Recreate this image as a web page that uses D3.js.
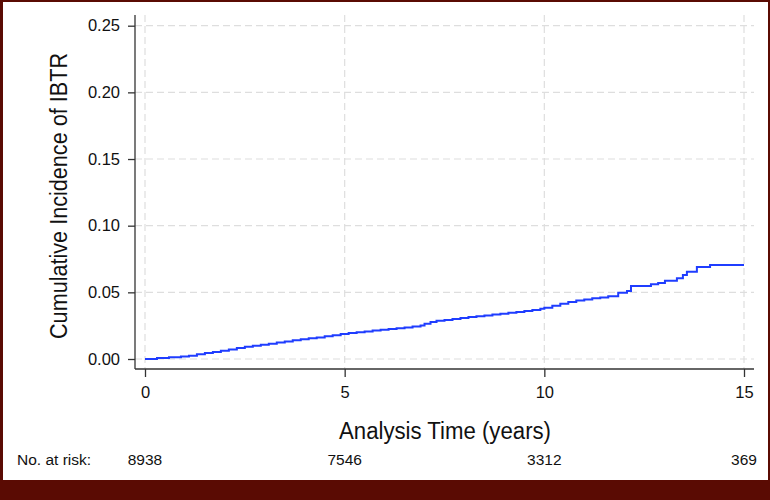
<!DOCTYPE html>
<html>
<head>
<meta charset="utf-8">
<script src="https://cdn.jsdelivr.net/npm/d3@7"></script>
<style>
  html, body { margin: 0; padding: 0; background: #fff; }
  svg { display: block; font-family: "Liberation Sans", Arial, Helvetica, sans-serif; }
</style>
</head>
<body>
<svg id="chart" width="770" height="500"></svg>
<script>
// ---- data ----
const times = [0, 0.3, 0.6, 0.9, 1.1, 1.3, 1.5, 1.7, 1.9, 2.1, 2.3, 2.5, 2.7, 2.9, 3.1, 3.3, 3.5, 3.7, 3.9,
  4.1, 4.3, 4.5, 4.7, 4.9, 5.1, 5.3, 5.5, 5.7, 5.9, 6.1, 6.3, 6.5, 6.7, 6.9, 7.0, 7.15, 7.3, 7.5, 7.7, 7.9,
  8.1, 8.3, 8.5, 8.7, 8.9, 9.1, 9.3, 9.5, 9.7, 9.9, 10.0, 10.2, 10.4, 10.6, 10.8, 11.0, 11.2, 11.4, 11.6,
  11.85, 12.07, 12.17, 12.67, 12.85, 13.02, 13.32, 13.47, 13.57, 13.82, 14.15, 15.0];
const incidence = [0, 0.0008, 0.0013, 0.0019, 0.0025, 0.0035, 0.0045, 0.0052, 0.0062, 0.0072, 0.0082, 0.0092,
  0.0100, 0.0107, 0.0115, 0.0123, 0.0132, 0.0140, 0.0148, 0.0155, 0.0162, 0.0170, 0.0178, 0.0187, 0.0195,
  0.0200, 0.0207, 0.0213, 0.0219, 0.0225, 0.0231, 0.0237, 0.0243, 0.0252, 0.0265, 0.0278, 0.0287, 0.0293,
  0.0300, 0.0308, 0.0315, 0.0321, 0.0327, 0.0333, 0.0340, 0.0347, 0.0353, 0.0360, 0.0367, 0.0376, 0.0385,
  0.0400, 0.0415, 0.0428, 0.0438, 0.0447, 0.0455, 0.0462, 0.0470, 0.0497, 0.0510, 0.0547, 0.0560, 0.0570,
  0.0587, 0.0605, 0.0630, 0.0655, 0.0690, 0.0705, 0.0705];
const xTicks = [0, 5, 10, 15];
const yTicks = [0, 0.05, 0.10, 0.15, 0.20, 0.25];
const atRiskTimes = [0, 5, 10, 15];
const atRisk = ["8938", "7546", "3312", "369"];
const xTitle = "Analysis Time (years)";
const yTitle = "Cumulative Incidence of IBTR";
const atRiskLabel = "No. at risk:";

// ---- layout ----
const svg = d3.select("#chart");
const W = 770, H = 500;
const frameColor = "#5a0b03";
const plotLeft = 135, plotRight = 754, plotTop = 15, plotBottom = 369;

const x = d3.scaleLinear().domain([0, 15]).range([145, 744]);
const y = d3.scaleLinear().domain([0, 0.25]).range([359, 25.7]);

// frame
svg.append("rect").attr("x", 0).attr("y", 0).attr("width", W).attr("height", H).attr("fill", frameColor);
svg.append("rect").attr("x", 3).attr("y", 2).attr("width", W - 5).attr("height", 478).attr("fill", "#fff");

// grid
const grid = svg.append("g").attr("stroke", "#dedede").attr("stroke-width", 1.2).attr("stroke-dasharray", "7,4");
grid.selectAll("line.h").data(yTicks).join("line")
  .attr("x1", plotLeft).attr("x2", plotRight)
  .attr("y1", d => y(d)).attr("y2", d => y(d));
grid.selectAll("line.v").data(xTicks).join("line")
  .attr("y1", plotTop).attr("y2", plotBottom)
  .attr("x1", d => x(d)).attr("x2", d => x(d));

// axes
const yAxis = d3.axisLeft(y).tickValues(yTicks).tickFormat(d3.format(".2f")).tickSize(7).tickPadding(8);
const gy = svg.append("g").attr("transform", `translate(${plotLeft},0)`).call(yAxis);
gy.select(".domain").remove();
gy.append("line").attr("x1", 0).attr("x2", 0).attr("y1", plotTop).attr("y2", plotBottom);

const xAxis = d3.axisBottom(x).tickValues(xTicks).tickFormat(d3.format("d")).tickSize(8).tickPadding(9);
const gx = svg.append("g").attr("transform", `translate(0,${plotBottom})`).call(xAxis);
gx.select(".domain").remove();
gx.append("line").attr("x1", plotLeft).attr("x2", plotRight).attr("y1", 0).attr("y2", 0);

[gx, gy].forEach(g => {
  g.selectAll("line").attr("stroke", "#333").attr("stroke-width", 1.3);
  g.selectAll("text").attr("fill", "#111").attr("font-size", 16.5)
    .attr("font-family", "'Liberation Sans', Arial, sans-serif");
});

// curve
const pts = times.map((t, i) => [t, incidence[i]]);
svg.append("path").datum(pts)
  .attr("fill", "none").attr("stroke", "#1f3dff").attr("stroke-width", 2)
  .attr("d", d3.line().x(d => x(d[0])).y(d => y(d[1])).curve(d3.curveStepAfter));

// titles
svg.append("text").attr("x", 445).attr("y", 439).attr("text-anchor", "middle")
  .attr("font-size", 23).attr("fill", "#111")
  .attr("textLength", 212).attr("lengthAdjust", "spacingAndGlyphs").text(xTitle);
svg.append("text").attr("transform", "translate(67,196) rotate(-90)").attr("text-anchor", "middle")
  .attr("font-size", 23).attr("fill", "#111")
  .attr("textLength", 286).attr("lengthAdjust", "spacingAndGlyphs").text(yTitle);

// at risk
svg.append("text").attr("x", 17).attr("y", 465).attr("font-size", 15.5).attr("fill", "#111").text(atRiskLabel);
svg.selectAll("text.risk").data(atRisk).join("text").attr("class", "risk")
  .attr("x", (d, i) => x(atRiskTimes[i])).attr("y", 465).attr("text-anchor", "middle")
  .attr("font-size", 15.5).attr("fill", "#111").text(d => d);
</script>
</body>
</html>
